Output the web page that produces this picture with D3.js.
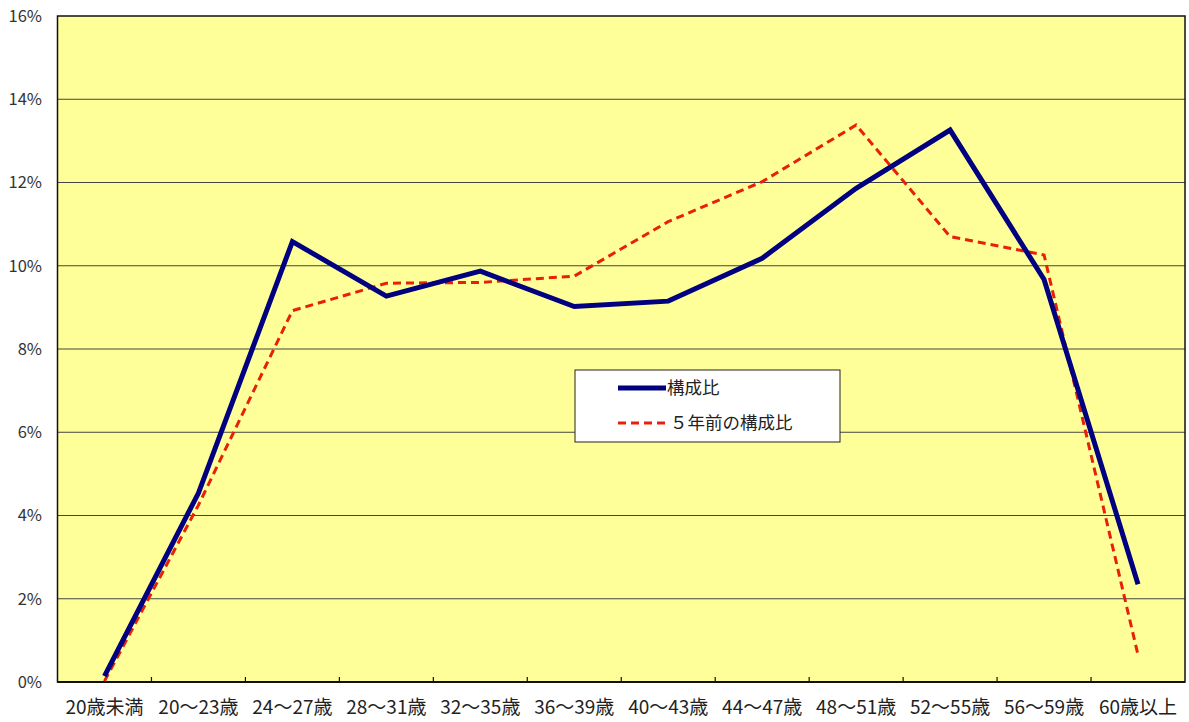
<!DOCTYPE html>
<html><head><meta charset="utf-8">
<script src="https://cdn.jsdelivr.net/npm/d3@7"></script>
<style>
html,body{margin:0;padding:0;background:#fff;}
svg{display:block;font-family:"Noto Sans CJK JP","Noto Sans",sans-serif;}
</style></head>
<body><svg id="c" width="1189" height="722"></svg>
<script>
const categories = ["20歳未満","20～23歳","24～27歳","28～31歳","32～35歳","36～39歳","40～43歳","44～47歳","48～51歳","52～55歳","56～59歳","60歳以上"];
const current = [0.14,4.54,10.58,9.27,9.87,9.02,9.15,10.18,11.86,13.26,9.67,2.35];
const previous = [0.02,4.25,8.92,9.58,9.60,9.75,11.06,12.02,13.38,10.70,10.26,0.65];
const yTicks = [0,2,4,6,8,10,12,14,16];
const seriesNames = ["構成比","５年前の構成比"];

const svg = d3.select("#c");
const L = 57.5, T = 16, R = 1185, B = 682;
const x = d3.scaleBand().domain(categories).range([L, R]).padding(0);
const y = d3.scaleLinear().domain([0,16]).range([B, T]);

svg.append("rect").attr("x",L).attr("y",T).attr("width",R-L).attr("height",B-T).attr("fill","#FFFF99");

// gridlines
svg.append("g").selectAll("line").data(yTicks.filter(d=>d>0&&d<16)).join("line")
  .attr("x1",L).attr("x2",R).attr("y1",d=>y(d)).attr("y2",d=>y(d))
  .attr("stroke","#444").attr("stroke-width",1);

// border
svg.append("rect").attr("x",L).attr("y",T).attr("width",R-L).attr("height",B-T)
  .attr("fill","none").attr("stroke","#111").attr("stroke-width",1.5);
svg.append("line").attr("x1",L).attr("x2",R).attr("y1",B).attr("y2",B).attr("stroke","#111").attr("stroke-width",2);

// x ticks (inside, at band boundaries)
svg.append("g").selectAll("line").data(categories.slice(1)).join("line")
  .attr("x1",d=>x(d)).attr("x2",d=>x(d)).attr("y1",B).attr("y2",B-5)
  .attr("stroke","#111").attr("stroke-width",1.2);

// y labels
svg.append("g").selectAll("text").data(yTicks).join("text")
  .attr("x",42).attr("y",d=>y(d)).attr("dy","0.35em").attr("text-anchor","end")
  .attr("font-size",16.5).attr("fill","#333").text(d=>d+"%");

// x labels
svg.append("g").selectAll("text").data(categories).join("text")
  .attr("x",d=>x(d)+x.bandwidth()/2).attr("y",714).attr("text-anchor","middle")
  .attr("font-size",19).attr("fill","#222").text(d=>d);

const line = d3.line().x((d,i)=>x(categories[i])+x.bandwidth()/2).y(d=>y(d));

svg.append("path").datum(previous).attr("d",line).attr("fill","none")
  .attr("stroke","#E8200A").attr("stroke-width",3).attr("stroke-dasharray","8,5");
svg.append("path").datum(current).attr("d",line).attr("fill","none")
  .attr("stroke","#000080").attr("stroke-width",5).attr("stroke-linejoin","miter");

// legend
const lg = svg.append("g");
lg.append("rect").attr("x",575).attr("y",370).attr("width",265).attr("height",72)
  .attr("fill","#fff").attr("stroke","#222").attr("stroke-width",1);
lg.append("line").attr("x1",618).attr("x2",666).attr("y1",388).attr("y2",388)
  .attr("stroke","#000080").attr("stroke-width",5);
lg.append("line").attr("x1",618).attr("x2",666).attr("y1",423).attr("y2",423)
  .attr("stroke","#E8200A").attr("stroke-width",3).attr("stroke-dasharray","8,5");
lg.append("text").attr("x",667).attr("y",388).attr("dy","0.35em").attr("font-size",17.5).attr("fill","#222").text(seriesNames[0]);
lg.append("text").attr("x",670).attr("y",423).attr("dy","0.35em").attr("font-size",17.5).attr("fill","#222").text(seriesNames[1]);
</script></body></html>
